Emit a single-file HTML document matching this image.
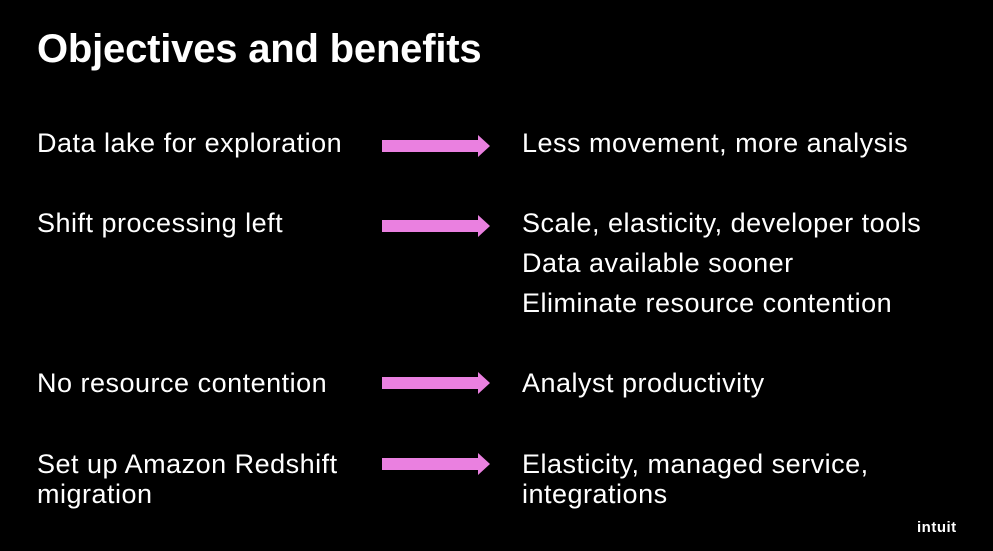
<!DOCTYPE html>
<html><head><style>
body{margin:0;width:993px;height:551px;background:#000;overflow:hidden;position:relative;font-family:"Liberation Sans","DejaVu Sans",sans-serif;color:#fff}
.t{position:absolute;font-size:27px;line-height:30px;white-space:nowrap;letter-spacing:0.5px}
h1{position:absolute;left:37px;top:26px;margin:0;font-size:40px;font-weight:bold;line-height:46px;letter-spacing:-0.2px}
svg.a{position:absolute;left:382px;width:108px;height:22px}
</style></head><body>
<h1>Objectives and benefits</h1>
<div class="t" style="left:37px;top:128px">Data lake for exploration</div>
<div class="t" style="left:37px;top:208px">Shift processing left</div>
<div class="t" style="left:37px;top:368px">No resource contention</div>
<div class="t" style="left:37px;top:449px">Set up Amazon Redshift<br>migration</div>
<div class="t" style="left:522px;top:128px">Less movement, more analysis</div>
<div class="t" style="left:522px;top:208px">Scale, elasticity, developer tools</div>
<div class="t" style="left:522px;top:248px">Data available sooner</div>
<div class="t" style="left:522px;top:288px">Eliminate resource contention</div>
<div class="t" style="left:522px;top:368px">Analyst productivity</div>
<div class="t" style="left:522px;top:449px">Elasticity, managed service,<br>integrations</div>
<svg class="a" style="top:135px" viewBox="0 0 108 22"><path d="M0 5H96V0L108 11L96 22V17H0Z" fill="#ea80e0"/></svg>
<svg class="a" style="top:215px" viewBox="0 0 108 22"><path d="M0 5H96V0L108 11L96 22V17H0Z" fill="#ea80e0"/></svg>
<svg class="a" style="top:372px" viewBox="0 0 108 22"><path d="M0 5H96V0L108 11L96 22V17H0Z" fill="#ea80e0"/></svg>
<svg class="a" style="top:453px" viewBox="0 0 108 22"><path d="M0 5H96V0L108 11L96 22V17H0Z" fill="#ea80e0"/></svg>
<div style="position:absolute;left:917px;top:519px;font-size:15px;font-weight:bold;letter-spacing:0.5px">intuit</div>
</body></html>
